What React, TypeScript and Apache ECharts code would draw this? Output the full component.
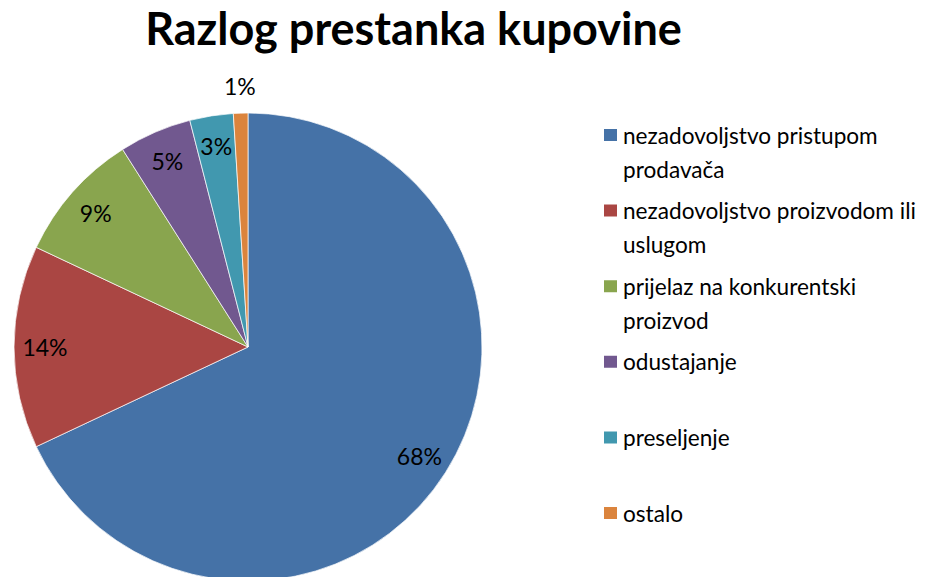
import React, { useEffect, useRef } from "react";
import * as echarts from "echarts";

const TITLE = "Razlog prestanka kupovine";
const categories = [
  "nezadovoljstvo pristupom prodavača",
  "nezadovoljstvo proizvodom ili uslugom",
  "prijelaz na konkurentski proizvod",
  "odustajanje",
  "preseljenje",
  "ostalo",
];
// legend line breaks as in the reference
const legendLines = [
  ["nezadovoljstvo pristupom", "prodavača"],
  ["nezadovoljstvo proizvodom ili", "uslugom"],
  ["prijelaz na konkurentski", "proizvod"],
  ["odustajanje", ""],
  ["preseljenje", ""],
  ["ostalo", ""],
];
const values = [68, 14, 9, 5, 3, 1];
const colors = ["#4572A7", "#AA4643", "#89A54E", "#71588F", "#4198AF", "#DB843D"];
// which slices carry their label outside the pie
const outsideLabel = [false, false, false, false, false, true];

const FONT = "Lato";

export default function App() {
  const ref = useRef<HTMLDivElement>(null);
  useEffect(() => {
    if (!ref.current) return;
    const chart = echarts.init(ref.current, null, { renderer: "svg" });

    const titleSize = 45;
    const ctx = document.createElement("canvas").getContext("2d")!;
    ctx.font = `bold ${titleSize}px ${FONT}`;
    const titleW = ctx.measureText(TITLE).width;

    const total = values.reduce((a, b) => a + b, 0);
    const pct = (v: number) => `${Math.round((v / total) * 100)}%`;

    const center = [248, 347];
    const R = 234;

    const baseData = categories.map((name, i) => ({
      name,
      value: values[i],
      itemStyle: { color: colors[i] },
    }));

    const labelStyle = {
      fontFamily: FONT,
      fontSize: 23,
      color: "#000",
      formatter: (p: any) => pct(p.value),
    };

    const option: any = {
      animation: false,
      backgroundColor: "#ffffff",
      title: {
        text: TITLE,
        left: 413.5 - titleW / 2,
        top: 5,
        padding: 0,
        textStyle: { fontFamily: FONT, fontWeight: "bold", fontSize: titleSize, color: "#000" },
      },
      legend: {
        orient: "vertical",
        left: 602,
        top: 84,
        padding: 0,
        itemWidth: 15,
        itemHeight: 14,
        itemGap: -26.4,
        icon: "rect",
        data: categories,
        formatter: (name: string) => {
          const l = legendLines[categories.indexOf(name)];
          return "\n" + l[0] + "\n" + l[1];
        },
        textStyle: { fontFamily: FONT, fontSize: 22.6, color: "#000", lineHeight: 34 },
        selectedMode: false,
      },
      series: [
        {
          type: "pie",
          center,
          radius: R,
          startAngle: 90,
          clockwise: true,
          silent: true,
          label: { show: false },
          labelLine: { show: false },
          itemStyle: { borderColor: "#ffffff", borderWidth: 0.7 },
          data: baseData,
        },
        {
          // inner labels ring (transparent)
          type: "pie",
          center,
          radius: [166, R],
          startAngle: 90,
          clockwise: true,
          silent: true,
          legendHoverLink: false,
          labelLine: { show: false },
          itemStyle: { color: "rgba(0,0,0,0)" },
          label: { position: "inside", ...labelStyle },
          data: categories.map((name, i) => ({
            name: name + " ",
            value: values[i],
            label: { show: !outsideLabel[i] },
            itemStyle: { color: "rgba(0,0,0,0)" },
          })),
        },
        {
          // outer labels ring (transparent)
          type: "pie",
          center,
          radius: [R, R + 48],
          startAngle: 90,
          clockwise: true,
          silent: true,
          legendHoverLink: false,
          labelLine: { show: false },
          itemStyle: { color: "rgba(0,0,0,0)" },
          label: { position: "inside", ...labelStyle },
          data: categories.map((name, i) => ({
            name: name + "  ",
            value: values[i],
            label: { show: outsideLabel[i] },
            itemStyle: { color: "rgba(0,0,0,0)" },
          })),
        },
      ],
    };
    chart.setOption(option);
    return () => chart.dispose();
  }, []);

  return (
    <div
      ref={ref}
      style={{ position: "fixed", left: 0, top: 0, width: 949, height: 577 }}
    />
  );
}
